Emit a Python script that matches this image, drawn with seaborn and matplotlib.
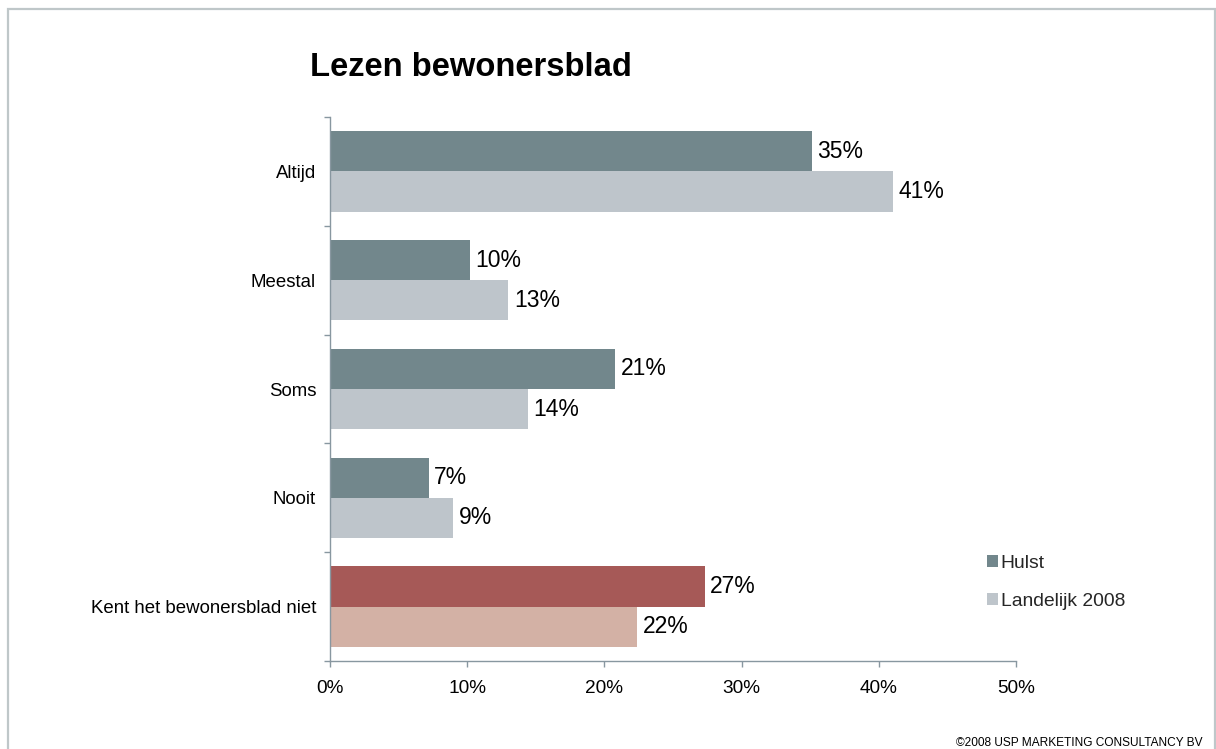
import matplotlib
matplotlib.use("Agg")
import matplotlib.pyplot as plt
from matplotlib.patches import Patch, Rectangle
from matplotlib.ticker import FixedLocator
import seaborn as sns
import pandas as pd

categories = ["Altijd", "Meestal", "Soms", "Nooit", "Kent het bewonersblad niet"]
series = ["Hulst", "Landelijk 2008"]
hulst = [35.1, 10.2, 20.8, 7.2, 27.3]
landelijk = [41.0, 13.0, 14.4, 9.0, 22.4]
x_ticks = [0, 10, 20, 30, 40, 50]

colors = {"Hulst": "#72878C", "Landelijk 2008": "#BEC5CB"}
highlight = {"Hulst": "#A65957", "Landelijk 2008": "#D3B1A5"}
axis_color = "#8897A0"

df = pd.DataFrame({
    "categorie": categories * 2,
    "serie": [series[0]] * len(categories) + [series[1]] * len(categories),
    "waarde": hulst + landelijk,
})

sns.set_theme(style="white")
plt.rcParams["font.family"] = ["Liberation Sans", "DejaVu Sans"]

fig = plt.figure(figsize=(12.16, 7.49), dpi=100)
ax = fig.add_axes([330 / 1216, 1 - 661 / 749, (1016 - 330) / 1216, (661 - 117) / 749])

sns.barplot(data=df, x="waarde", y="categorie", hue="serie", order=categories,
            hue_order=series, palette=colors, orient="h", width=0.74,
            saturation=1, linewidth=0, ax=ax, legend=False)

# highlight the "does not know" group
last = len(categories) - 1
for cont, s in zip(ax.containers, series):
    cont.patches[last].set_facecolor(highlight[s])
    ax.bar_label(cont, labels=[f"{v:.0f}%" for v in cont.datavalues],
                 padding=4, fontsize=16.5, color="black")

ax.set_xlim(0, 50)
ax.set_ylim(len(categories) - 0.5, -0.5)
ax.set_xticks(x_ticks)
ax.set_xticklabels([f"{t}%" for t in x_ticks], fontsize=13.7, color="black")
ax.set_yticks(range(len(categories)))
ax.set_yticklabels(categories, fontsize=13.4, color="black")
ax.yaxis.set_minor_locator(FixedLocator([i - 0.5 for i in range(len(categories) + 1)]))
ax.tick_params(axis="y", which="major", length=0, pad=10)
ax.tick_params(axis="y", which="minor", length=4, width=1, color=axis_color, left=True)
ax.tick_params(axis="x", which="major", length=4.5, width=1, color=axis_color,
               bottom=True, pad=9)
ax.set_xlabel("")
ax.set_ylabel("")
for side in ["top", "right"]:
    ax.spines[side].set_visible(False)
for side in ["left", "bottom"]:
    ax.spines[side].set_color(axis_color)
    ax.spines[side].set_linewidth(1)

handles = [Patch(facecolor=colors[s], edgecolor="none", label=s) for s in series]
fig.legend(handles=handles, loc="center left",
           bbox_to_anchor=(987 / 1216, 1 - 582.5 / 749), frameon=False,
           fontsize=13.9, handlelength=0.55, handleheight=0.55, handletextpad=0.15,
           labelspacing=1.1, borderpad=0, borderaxespad=0)

fig.text(310 / 1216, 1 - 68 / 749, "Lezen bewonersblad", ha="left", va="center",
         fontsize=23.6, fontweight="bold", color="black")
fig.text(1203 / 1216, 1 - 743 / 749, "\u00a92008 USP MARKETING CONSULTANCY BV",
         ha="right", va="center", fontsize=8.6, color="black")

# outer frame of the slide
fig.patches.append(Rectangle((8 / 1216, -0.05), (1215 - 8) / 1216, 1.05 - 9 / 749,
                             transform=fig.transFigure, fill=False,
                             edgecolor="#BFC7C9", linewidth=1.6))

fig.savefig("out.png", dpi=100)
